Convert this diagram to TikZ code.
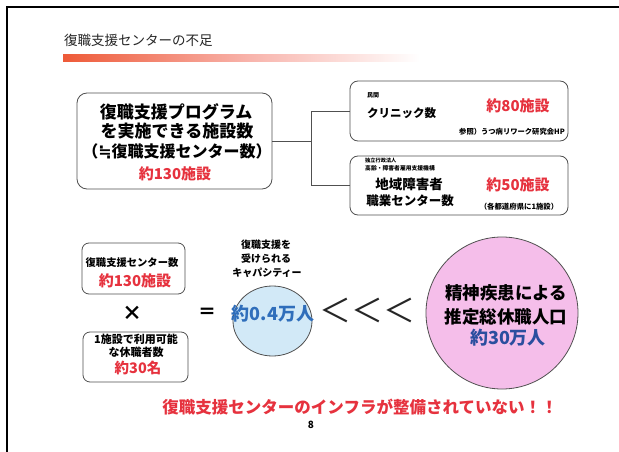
\documentclass[tikz,border=0pt]{standalone}
\usepackage{fontspec}
\setmainfont{Noto Sans CJK JP}
\newfontfamily\dvsans{DejaVu Sans}
\usetikzlibrary{shapes.geometric}
\newcommand\fsz[1]{\fontsize{#1pt}{#1pt}\selectfont}
\definecolor{myred}{HTML}{E6323E}
\definecolor{lineg}{HTML}{505050}
\definecolor{bluefill}{HTML}{D2E9F7}
\definecolor{pinkfill}{HTML}{F5BEEA}
\definecolor{blue1}{HTML}{2F6EBB}
\definecolor{blue2}{HTML}{2B4E9F}
\definecolor{barL}{HTML}{EE5A38}
\definecolor{barM}{HTML}{F8B4AC}
\tikzset{
  box/.style={draw=lineg, line width=0.8pt, rounded corners=#1, inner sep=0pt},
  box/.default=8pt,
  txt/.style={inner sep=0pt, anchor=center},
  conn/.style={draw=lineg, line width=0.8pt},
}
\begin{document}
\begin{tikzpicture}[x=1pt,y=-1pt]
\useasboundingbox (0,0) rectangle (619,452);
\fill[white] (0,0) rectangle (619,452);
% frame
\draw[line width=1.6pt, black] (7,452) -- (7,7) -- (619,7);
% title and bar
\node[txt, anchor=west] (title) at (64,40) {\fsz{13.5}\color{black!85}復職支援センターの不足};
\shade[left color=barL, right color=barM] (63,55) rectangle (250,62);
\shade[left color=barM, right color=white] (250,55) rectangle (420,62);

% upper boxes
\node[box=10pt, minimum width=195pt, minimum height=96pt] (big) at (174.5,141) {};
\node[txt] (b1) at (176,112) {\fsz{17}\bfseries 復職支援プログラム};
\node[txt] (b2) at (177,131) {\fsz{17}\bfseries を実施できる施設数};
\node[txt] (b3) at (177,151) {\fsz{16}\bfseries （{\dvsans ≒}復職支援センター数）};
\node[txt] (b4) at (175,174) {\fsz{15}\bfseries\color{myred} 約130施設};

\node[box, minimum width=218pt, minimum height=60pt] (clinic) at (459,111) {};
\node[txt, anchor=west] (c0) at (367,95) {\fsz{6}\bfseries 民間};
\node[txt, anchor=west] (c1) at (367,113) {\fsz{11.5}\bfseries クリニック数};
\node[txt] (c2) at (518,106) {\fsz{15}\bfseries\color{myred} 約80施設};
\node[txt] (c3) at (512,132) {\fsz{7.3}\bfseries 参照）うつ病リワーク研究会HP};

\node[box, minimum width=218pt, minimum height=59pt] (center) at (459,185.5) {};
\node[txt, anchor=west] (d0) at (365,161) {\fsz{5.2}\bfseries 独立行政法人};
\node[txt, anchor=west] (d1) at (365,168) {\fsz{5.8}\bfseries 高齢・障害者雇用支援機構};
\node[txt] (d2) at (409,184) {\fsz{13.5}\bfseries 地域障害者};
\node[txt] (d3) at (410,201) {\fsz{12.5}\bfseries 職業センター数};
\node[txt] (d4) at (518,185) {\fsz{15}\bfseries\color{myred} 約50施設};
\node[txt] (d5) at (519,207) {\fsz{7.4}\bfseries （各都道府県に1施設）};

\coordinate (j) at (311,141);
\draw[conn] (big.east) -- (j);
\draw[conn] (clinic.west) -| (j);
\draw[conn] (center.west) -| (j);

% lower left
\node[box=7pt, minimum width=103pt, minimum height=51pt] (k1) at (133.5,268.5) {};
\node[txt] (k1a) at (132,263) {\fsz{10.3}\bfseries 復職支援センター数};
\node[txt] (k1b) at (135,281) {\fsz{15}\bfseries\color{myred} 約130施設};
\node[txt] (times) at (132,313) {\fsz{20}\bfseries ×};
\node[box=7pt, minimum width=105pt, minimum height=50pt] (k2) at (135.5,357) {};
\node[txt] (k2a) at (136,339) {\fsz{11}\bfseries 1施設で利用可能};
\node[txt] (k2b) at (136,352) {\fsz{11}\bfseries な休職者数};
\node[txt] (k2c) at (138,368) {\fsz{14.5}\bfseries\color{myred} 約30名};
\node[txt] (eq) at (207,313) {\fsz{18}\bfseries ＝};

% capacity
\node[txt] (cap1) at (266,245) {\fsz{10}\bfseries 復職支援を};
\node[txt] (cap2) at (266,259) {\fsz{10}\bfseries 受けられる};
\node[txt] (cap3) at (267,273) {\fsz{10}\bfseries キャパシティー};
\node[ellipse, draw=lineg, line width=0.8pt, fill=bluefill, minimum width=79pt, minimum height=70pt, inner sep=0pt] (blue) at (272.5,321) {};
\node[txt] (bt) at (273,314) {\fsz{18}\bfseries\color{blue1} 約0.4万人};

\node[txt] (lt) at (367,310) {\fsz{32}\color{black!85}＜＜＜};

% pink circle
\node[circle, draw=lineg, line width=0.8pt, fill=pinkfill, minimum size=152pt, inner sep=0pt] (pink) at (502,313) {};
\node[txt] (p1) at (506,293) {\fsz{17.5}\bfseries 精神疾患による};
\node[txt] (p2) at (506,317) {\fsz{17.5}\bfseries 推定総休職人口};
\node[txt] (p3) at (508,338) {\fsz{18}\bfseries\color{blue2} 約30万人};

% message
\node[txt] (msg) at (360,407) {\fsz{16.5}\bfseries\color{myred} 復職支援センターのインフラが整備されていない！！};
\node[txt] (pg) at (311,425) {\fsz{10}\bfseries 8};
\end{tikzpicture}
\end{document}
